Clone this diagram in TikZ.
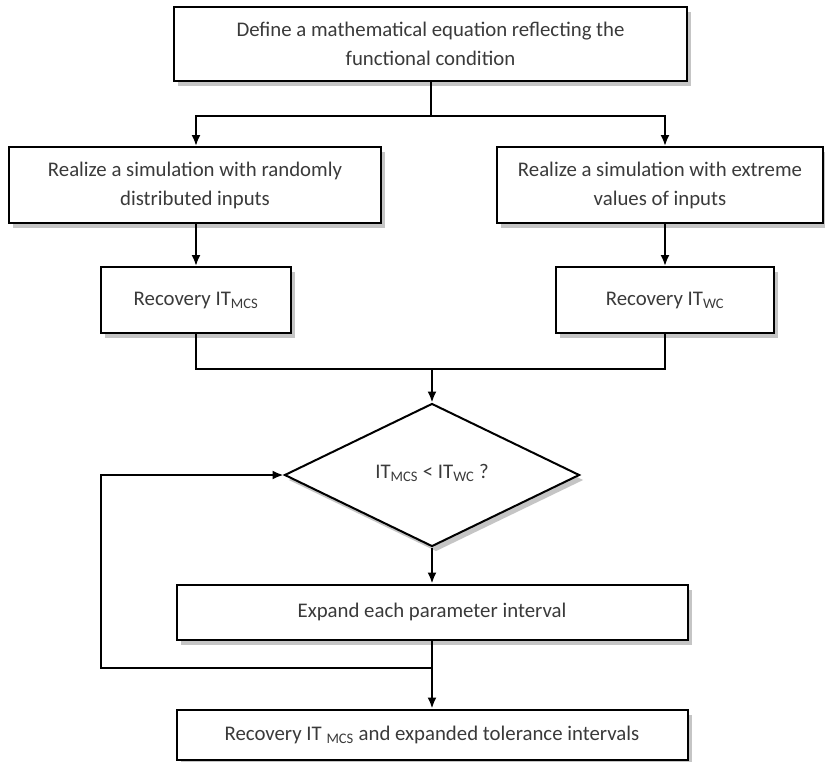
\documentclass[tikz,border=0pt]{standalone}
\usepackage{fontspec}
\setmainfont{Carlito}
\usetikzlibrary{positioning,shapes.geometric,shadows,arrows.meta}
\definecolor{FlowText}{HTML}{3A3A3A}
\definecolor{FlowShade}{HTML}{8C8C8C}

\begin{document}
\begin{tikzpicture}[x=1pt,y=-1pt,>={Latex[length=11pt,width=9pt]},line width=2pt]
  \tikzstyle{procbox}=[draw,fill=white,inner sep=2pt,align=center,
    text=FlowText,font=\fontsize{20.8}{29}\selectfont,
    drop shadow={shadow xshift=4pt,shadow yshift=-5pt,opacity=0.5,fill=FlowShade}]
  \tikzstyle{testbox}=[procbox,diamond,minimum width=295pt,minimum height=143pt,inner sep=0pt]
  \useasboundingbox (0,0) rectangle (825,761);
  \node[procbox,minimum width=513pt,minimum height=74pt] (define) at (430.5,44)
    {Define a mathematical equation reflecting the\\functional condition};
  \node[procbox,minimum width=372pt,minimum height=76pt] (randsim) at (195,185)
    {Realize a simulation with randomly\\distributed inputs};
  \node[procbox,minimum width=326pt,minimum height=76pt] (extsim) at (660,185)
    {Realize a simulation with extreme\\values of inputs};
  \node[procbox,minimum width=190pt,minimum height=66pt] (randcover) at (196,300)
    {Recovery IT\textsubscript{MCS}};
  \node[procbox,minimum width=218pt,minimum height=66pt] (extcover) at (665,300)
    {Recovery IT\textsubscript{WC}};
  \node[testbox] (check) at (432,475)
    {\raisebox{8pt}{IT\textsubscript{MCS} < IT\textsubscript{WC} ?}};
  \node[procbox,minimum width=511pt,minimum height=55pt,below=36pt of check] (expand)
    {Expand each parameter interval};
  \node[procbox,minimum width=511pt,minimum height=50pt,below=68pt of expand] (result)
    {Recovery IT \textsubscript{MCS} and expanded tolerance intervals};
  % junctions of the connectors
  \coordinate (split) at (430.5,116);
  \coordinate (merge) at (432,369);
  \coordinate (rejoin) at (432,668);
  \coordinate (loopturn) at (101,668);
  \draw (define) -- (split);
  \draw[->] (split) -| (randsim.north -| randcover.north);
  \draw[->] (split) -| (extsim.north -| extcover.north);
  \draw[->] (randsim.south -| randcover.north) -- (randcover);
  \draw[->] (extsim.south -| extcover.north) -- (extcover);
  \draw (randcover) |- (merge);
  \draw (extcover) |- (merge);
  \draw[->] (merge) -- (check);
  \draw[->] (check) -- (expand);
  \draw (expand) -- (rejoin);
  \draw[->] (rejoin) -- (result);
  \draw[->] (rejoin) -- (loopturn) |- (check.west);
\end{tikzpicture}
\end{document}
